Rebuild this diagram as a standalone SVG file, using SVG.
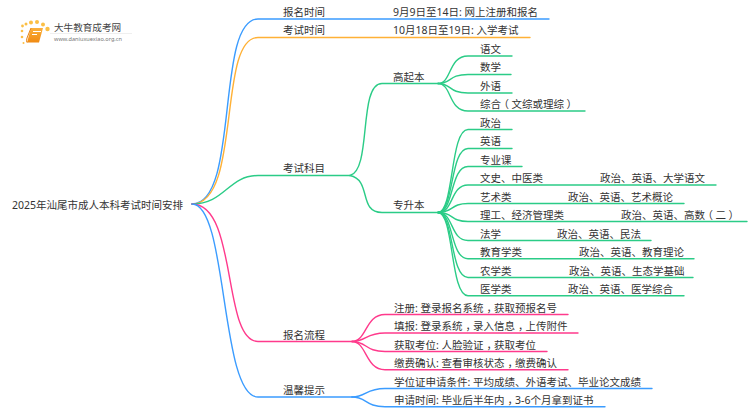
<svg xmlns="http://www.w3.org/2000/svg" width="750" height="410" viewBox="0 0 750 410">
<style>
text{font-family:"Noto Sans","Noto Sans CJK SC",sans-serif;font-size:10.5px;fill:#333}
.t{letter-spacing:-3px}
.s{letter-spacing:-2.500px}
.c{fill:none;stroke-width:1.4;stroke-linecap:round}
.b{stroke:#3b9cff}.o{stroke:#ffb136}.g{stroke:#2bcc87}.p{stroke:#ff3a8c}
</style>
<defs><linearGradient id="bk" x1="0" y1="0" x2="0" y2="1"><stop offset="0" stop-color="#fbb03b"/><stop offset="1" stop-color="#f08a12"/></linearGradient></defs>
<rect width="750" height="410" fill="#fff"/>
<g id="connectors">
<path class="c b" d="M192 204C240 204 215 19 258 19H549"/>
<path class="c o" d="M192 204C242 204 217 37.500 258 37.500H530"/>
<path class="c g" d="M192 204C225 204 228 175.500 258 175.500H350"/>
<path class="c p" d="M192 204C238 204 222 341.500 258 341.500H352"/>
<path class="c b" d="M192 204C228 204 220 397 258 397H352"/>
<path class="c g" d="M350 175.500C372 170 358 83.500 382 83.500H438"/>
<path class="c g" d="M350 175.500C372 180 358 212.500 382 212.500H438"/>
<path class="c g" d="M438 83.500C452 83.500 448 56 468 56H512"/>
<path class="c g" d="M438 83.500C452 83.500 448 74.500 468 74.500H511"/>
<path class="c g" d="M438 83.500C452 83.500 448 93 468 93H512"/>
<path class="c g" d="M438 83.500C452 83.500 448 111 468 111H585"/>
<path class="c g" d="M438 212.500C454 212.500 450 129.500 468 129.500H512"/>
<path class="c g" d="M438 212.500C454 212.500 450 148.500 468 148.500H512"/>
<path class="c g" d="M438 212.500C454 212.500 450 166.500 468 166.500H522"/>
<path class="c g" d="M438 212.500C454 212.500 450 185 468 185H716"/>
<path class="c g" d="M438 212.500C454 212.500 450 203.500 468 203.500H684"/>
<path class="c g" d="M438 212.500C454 212.500 450 221.500 468 221.500H747"/>
<path class="c g" d="M438 212.500C454 212.500 450 240.500 468 240.500H651"/>
<path class="c g" d="M438 212.500C454 212.500 450 258.700 468 258.700H694"/>
<path class="c g" d="M438 212.500C454 212.500 450 277.500 468 277.500H693"/>
<path class="c g" d="M438 212.500C454 212.500 450 295.700 468 295.700H684"/>
<path class="c p" d="M352 341.500C367 341.500 365 314.500 385 314.500H568"/>
<path class="c p" d="M352 341.500C367 341.500 365 333 385 333H578"/>
<path class="c p" d="M352 341.500C367 341.500 365 351.500 385 351.500H547"/>
<path class="c p" d="M352 341.500C367 341.500 365 369.700 385 369.700H568"/>
<path class="c b" d="M352 397C367 397 365 388.500 385 388.500H652"/>
<path class="c b" d="M352 397C367 397 365 406.700 385 406.700H605"/>
</g>
<g id="root"><text x="12" y="209">2025年汕尾市成人本科考试时间安排</text></g>
<g id="logo">
<g fill="#fbbf45"><circle cx="22.500" cy="26" r="1.400"/><circle cx="26" cy="24" r="1.500"/><circle cx="31" cy="22.500" r="2"/><circle cx="37" cy="22" r="2"/><circle cx="43" cy="24.500" r="2"/><circle cx="47.500" cy="29" r="2.200"/><circle cx="22" cy="31" r="1.300"/><circle cx="22" cy="37" r="1.300"/><circle cx="23.500" cy="43" r="1"/></g>
<path d="M31 28H43L39 42.500H27Z" fill="url(#bk)"/>
<path d="M27 42.500Q26 41 27 38L31 28" fill="none" stroke="#e5810f"/>
<path d="M33 31.500H41M32 34.500H37" stroke="#fff" stroke-width="1"/>
<text x="54" y="31" style="font-size:9.600px;fill:#444">大牛教育成考网</text>
<path d="M50 33.500H132" stroke="#e8e8e8" stroke-width=".7"/>
<text x="54" y="41" style="font-size:5.600px;fill:#777">www.daniuxuexiao.org.cn</text>
</g>
<g id="n1"><text x="283" y="16">报名时间</text></g>
<g id="n1a"><text x="393" y="16">9月9日至14日: 网上注册和报名</text></g>
<g id="n2"><text x="283" y="34">考试时间</text></g>
<g id="n2a"><text x="393" y="34">10月18日至19日: 入学考试</text></g>
<g id="n3"><text x="283" y="172">考试科目</text></g>
<g id="n3a"><text x="393" y="80.500">高起本</text></g>
<g id="a1"><text x="480" y="53">语文</text></g>
<g id="a2"><text x="480" y="71">数学</text></g>
<g id="a3"><text x="480" y="90">外语</text></g>
<g id="a4"><text x="480" y="108">综<tspan class="s">合</tspan>（<tspan dx="2.500">文综或理综</tspan><tspan dx="2.500">）</tspan></text></g>
<g id="n3b"><text x="393" y="209">专升本</text></g>
<g id="b1"><text x="480" y="127">政治</text></g>
<g id="b2"><text x="480" y="145">英语</text></g>
<g id="b3"><text x="480" y="164">专业课</text></g>
<g id="b4"><text x="480" y="182">文史、中医类</text><text x="600" y="182">政治、英语、大学语文</text></g>
<g id="b5"><text x="480" y="201">艺术类</text><text x="568" y="201">政治、英语、艺术概论</text></g>
<g id="b6"><text x="480" y="219">理工、经济管理类</text><text x="621" y="219">政治、英语、高<tspan class="s">数</tspan>（<tspan dx="2.500">二</tspan><tspan dx="2.500">）</tspan></text></g>
<g id="b7"><text x="480" y="237.500">法学</text><text x="557" y="237.500">政治、英语、民法</text></g>
<g id="b8"><text x="480" y="256">教育学类</text><text x="579" y="256">政治、英语、教育理论</text></g>
<g id="b9"><text x="480" y="274.500">农学类</text><text x="569" y="274.500">政治、英语、生态学基础</text></g>
<g id="b10"><text x="480" y="293">医学类</text><text x="568" y="293">政治、英语、医学综合</text></g>
<g id="n4"><text x="283" y="339">报名流程</text></g>
<g id="c1"><text x="394" y="311.500">注册: 登录报名系统<tspan class="t" dx="3">，</tspan>获取预报名号</text></g>
<g id="c2"><text x="394" y="330">填报: 登录系统<tspan class="t" dx="3">，</tspan>录入信息<tspan class="t" dx="3">，</tspan>上传附件</text></g>
<g id="c3"><text x="394" y="348.500">获取考位: 人脸验证<tspan class="t" dx="3">，</tspan>获取考位</text></g>
<g id="c4"><text x="394" y="367">缴费确认: 查看审核状态<tspan class="t" dx="3">，</tspan>缴费确认</text></g>
<g id="n5"><text x="283" y="394">温馨提示</text></g>
<g id="d1"><text x="394" y="385.500">学位证申请条件: 平均成绩、外语考试、毕业论文成绩</text></g>
<g id="d2"><text x="394" y="404">申请时间: 毕业后半年内<tspan class="t" dx="3">，</tspan>3-6个月拿到证书</text></g>
</svg>
